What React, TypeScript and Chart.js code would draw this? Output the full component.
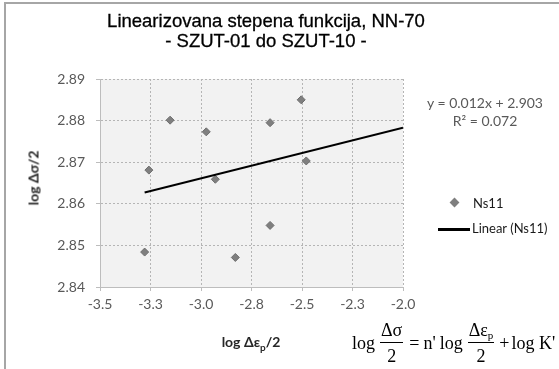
import React, { useEffect, useRef } from "react";
import { Chart, registerables } from "chart.js";

Chart.register(...registerables);

const titleLines = ["Linearizovana stepena funkcija, NN-70", "- SZUT-01 do SZUT-10 -"];
const seriesName = "Ns11";
const trendName = "Linear (Ns11)";
const yAxisTitle = "log Δσ/2";
const equationLabel = "y = 0.012x + 2.903";
const r2Label = "R² = 0.072";

const xValues = [-3.258, -3.153, -2.974, -2.929, -2.658, -2.504, -2.479, -3.279, -2.83, -2.658];
const yValues = [2.8681, 2.8801, 2.8773, 2.8659, 2.8795, 2.885, 2.8703, 2.8484, 2.8471, 2.8548];
const xTickValues = [-3.5, -3.25, -3.0, -2.75, -2.5, -2.25, -2.0];
const yTickValues = [2.84, 2.85, 2.86, 2.87, 2.88, 2.89];

function fitLine(xs: number[], ys: number[]) {
  const n = xs.length;
  const mx = xs.reduce((a, b) => a + b, 0) / n;
  const my = ys.reduce((a, b) => a + b, 0) / n;
  let sxy = 0;
  let sxx = 0;
  for (let i = 0; i < n; i++) {
    sxy += (xs[i] - mx) * (ys[i] - my);
    sxx += (xs[i] - mx) * (xs[i] - mx);
  }
  const slope = sxy / sxx;
  return { slope, intercept: my - slope * mx };
}

const fmt1 = (v: number) => {
  const r = Math.round(Math.abs(v) * 10) / 10;
  return (v < 0 ? "-" : "") + r.toFixed(1);
};

const plotBg = {
  id: "plotBg",
  beforeDraw(chart: any) {
    const { ctx, chartArea: a } = chart;
    ctx.save();
    ctx.fillStyle = "#f2f2f2";
    ctx.fillRect(a.left, a.top, a.right - a.left, a.bottom - a.top);
    ctx.restore();
  },
};

function Frac({ num, den }: { num: any; den: any }) {
  return (
    <span style={{ display: "inline-flex", flexDirection: "column", alignItems: "center", margin: "0 2px" }}>
      <span style={{ lineHeight: "18px", padding: "0 1px", borderBottom: "1px solid #000", paddingBottom: 3 }}>{num}</span>
      <span style={{ lineHeight: "18px", paddingTop: 4 }}>{den}</span>
    </span>
  );
}

export default function App() {
  const ref = useRef<HTMLCanvasElement>(null);
  useEffect(() => {
    const xMin = Math.min(...xValues);
    const xMax = xTickValues[xTickValues.length - 1];
    const { slope, intercept } = fitLine(xValues, yValues);
    const tickFont = { family: "Lato", size: 14 };
    const chart = new Chart(ref.current as HTMLCanvasElement, {
      type: "scatter",
      data: {
        datasets: [
          {
            label: trendName,
            data: [
              { x: xMin, y: slope * xMin + intercept },
              { x: xMax, y: slope * xMax + intercept },
            ],
            showLine: true,
            borderColor: "#000",
            borderWidth: 2,
            pointRadius: 0,
          },
          {
            label: seriesName,
            data: xValues.map((x, i) => ({ x, y: yValues[i] })),
            pointStyle: "rectRot",
            pointRadius: 4,
            backgroundColor: "#7f7f7f",
            borderColor: "#6e6e6e",
            borderWidth: 1,
          },
        ],
      },
      options: {
        responsive: false,
        animation: false,
        layout: { padding: { left: 0, top: 79, right: 156, bottom: 0 } },
        plugins: { legend: { display: false }, tooltip: { enabled: false }, title: { display: false } },
        scales: {
          x: {
            type: "linear",
            min: -3.5,
            max: -2.0,
            afterBuildTicks: (s: any) => {
              s.ticks = xTickValues.map((v) => ({ value: v }));
            },
            afterFit: (s: any) => {
              s.height = 82;
            },
            grid: { color: "#b5b5b5", tickLength: 4, tickColor: "#bdbdbd" },
            border: { color: "#bdbdbd", dash: [2, 2] },
            ticks: {
              font: tickFont,
              color: "#595959",
              padding: 5,
              maxRotation: 0,
              autoSkip: false,
              callback: (v: any) => fmt1(Number(v)),
            },
          },
          y: {
            type: "linear",
            min: 2.84,
            max: 2.89,
            afterBuildTicks: (s: any) => {
              s.ticks = yTickValues.map((v) => ({ value: v }));
            },
            afterFit: (s: any) => {
              s.width = 100;
            },
            grid: { color: "#b5b5b5", tickLength: 4, tickColor: "#bdbdbd" },
            border: { color: "#bdbdbd", dash: [2, 2] },
            ticks: {
              font: tickFont,
              color: "#595959",
              padding: 11,
              autoSkip: false,
              callback: (v: any) => Number(v).toFixed(2),
            },
          },
        },
      },
      plugins: [plotBg],
    } as any);
    return () => chart.destroy();
  }, []);

  return (
    <div
      style={{
        position: "fixed",
        left: 0,
        top: 0,
        width: 559,
        height: 369,
        overflow: "hidden",
        background: "#fff",
      }}
    >
      <div
        style={{
          position: "absolute",
          left: 4,
          top: 2,
          width: 620,
          height: 420,
          borderLeft: "2px solid #a6a6a6",
          borderTop: "2px solid #a6a6a6",
        }}
      />
      <canvas ref={ref} width={559} height={369} style={{ position: "absolute", left: 0, top: 0 }} />
      <div
        style={{
          position: "absolute",
          left: 0,
          top: 11,
          width: 532,
          textAlign: "center",
          fontFamily: '"Liberation Sans", Arial, sans-serif',
          fontSize: 18.5,
          lineHeight: "19.5px",
          color: "#000",
          WebkitTextStroke: "0.3px #000",
        }}
      >
        <div>{titleLines[0]}</div>
        <div>{titleLines[1]}</div>
      </div>
      <div
        style={{
          position: "absolute",
          left: 33,
          top: 178,
          transform: "translate(-50%, -50%) rotate(-90deg)",
          fontFamily: "Lato",
          fontWeight: 700,
          fontSize: 14,
          whiteSpace: "nowrap",
          color: "#262626",
        }}
      >
        {yAxisTitle}
      </div>
      <div
        style={{
          position: "absolute",
          left: 251,
          top: 333,
          transform: "translateX(-50%)",
          fontFamily: "Lato",
          fontWeight: 700,
          fontSize: 14,
          lineHeight: "17px",
          whiteSpace: "nowrap",
          color: "#262626",
        }}
      >
        log Δε<sub style={{ fontSize: 10, verticalAlign: -4, lineHeight: 0 }}>p</sub>/2
      </div>
      <div
        style={{
          position: "absolute",
          left: 485,
          top: 94,
          transform: "translateX(-50%)",
          textAlign: "center",
          fontFamily: "Lato",
          fontSize: 14,
          lineHeight: "18.4px",
          whiteSpace: "nowrap",
          color: "#595959",
        }}
      >
        <div>{equationLabel}</div>
        <div>{r2Label}</div>
      </div>
      <div
        style={{
          position: "absolute",
          left: 451,
          top: 199,
          width: 7,
          height: 7,
          background: "#7f7f7f",
          transform: "rotate(45deg)",
        }}
      />
      <div
        style={{
          position: "absolute",
          left: 473,
          top: 195,
          fontFamily: "Lato",
          fontSize: 13,
          lineHeight: "17px",
          color: "#1a1a1a",
          whiteSpace: "nowrap",
        }}
      >
        {seriesName}
      </div>
      <div style={{ position: "absolute", left: 438, top: 228, width: 32, height: 2.5, background: "#000" }} />
      <div
        style={{
          position: "absolute",
          left: 472,
          top: 220,
          fontFamily: "Lato",
          fontSize: 13,
          lineHeight: "17px",
          color: "#1a1a1a",
          whiteSpace: "nowrap",
        }}
      >
        {trendName}
      </div>
      <div
        style={{
          position: "absolute",
          left: 352,
          top: 321,
          height: 44,
          display: "flex",
          alignItems: "center",
          fontFamily: '"Liberation Serif", serif',
          fontSize: 18,
          color: "#000",
          whiteSpace: "nowrap",
        }}
      >
        <span style={{ marginRight: 3 }}>log</span>
        <Frac num="Δσ" den="2" />
        <span style={{ margin: "0 4px" }}>=</span>
        <span style={{ marginRight: 4 }}>n'</span>
        <span style={{ marginRight: 3 }}>log</span>
        <Frac
          num={
            <>
              Δε<sub style={{ fontSize: 11, verticalAlign: -3, lineHeight: 0 }}>p</sub>
            </>
          }
          den="2"
        />
        <span style={{ marginLeft: 3, marginRight: 2 }}>+</span>
        <span>log K'</span>
      </div>
    </div>
  );
}
